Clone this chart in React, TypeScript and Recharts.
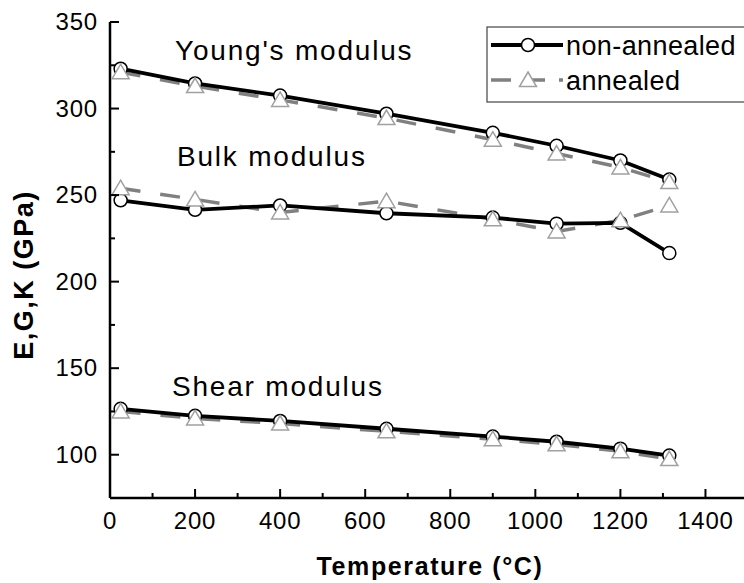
import React from 'react';
import { LineChart, Line, XAxis, YAxis } from 'recharts';

const temps = [25, 200, 400, 650, 900, 1050, 1200, 1315];
const youngNon = [323, 314.5, 307.5, 297, 286, 278.5, 270, 259];
const youngAnn = [321, 313, 305, 294.5, 282, 274, 266, 257.5];
const bulkNon = [247, 241.5, 244, 239.5, 237, 233.5, 234, 216.5];
const bulkAnn = [254, 247.5, 240, 246.5, 236, 229, 235.5, 244];
const shearNon = [126.5, 122.5, 119.5, 115, 110.5, 107.5, 103.5, 99.5];
const shearAnn = [125, 121, 118, 113.5, 109, 106, 102, 97.5];

const xTicks = [0, 100, 200, 300, 400, 500, 600, 700, 800, 900, 1000, 1100, 1200, 1300, 1400];
const xLabelTicks = [0, 200, 400, 600, 800, 1000, 1200, 1400];
const yTicks = [100, 125, 150, 175, 200, 225, 250, 275, 300, 325, 350];
const yLabelTicks = [100, 150, 200, 250, 300, 350];

const seriesNames = ['non-annealed', 'annealed'];
const annotations = ["Young's modulus", 'Bulk modulus', 'Shear modulus'];

const rows = temps.map((t, i) => ({
  t,
  youngNon: youngNon[i],
  youngAnn: youngAnn[i],
  bulkNon: bulkNon[i],
  bulkAnn: bulkAnn[i],
  shearNon: shearNon[i],
  shearAnn: shearAnn[i],
}));

const FONT = '"Liberation Sans", Arial, sans-serif';
const GRAY = '#808080';
const TRI = '#a0a0a0';

const XTick = (props: any) => {
  const { x, y, payload } = props;
  const v = payload.value;
  const major = xLabelTicks.includes(v);
  return (
    <g>
      <line x1={x} x2={x} y1={y} y2={y - (major ? 9 : 5)} stroke="#000" strokeWidth={2} />
      {major && (
        <text x={x} y={y + 31} textAnchor="middle" fontSize={24} letterSpacing={0.8} fontFamily={FONT} fill="#000">
          {v}
        </text>
      )}
    </g>
  );
};

const YTick = (props: any) => {
  const { x, y, payload } = props;
  const v = payload.value;
  const major = yLabelTicks.includes(v);
  return (
    <g>
      <line x1={x} x2={x + (major ? 9 : 5)} y1={y} y2={y} stroke="#000" strokeWidth={2} />
      {major && (
        <text x={x - 12} y={y + 8} textAnchor="end" fontSize={24} letterSpacing={0.8} fontFamily={FONT} fill="#000">
          {v}
        </text>
      )}
    </g>
  );
};

const Tri = (props: any) => {
  const { cx, cy, index } = props;
  if (cx == null || cy == null) return <g key={index} />;
  return (
    <path
      key={index}
      d={`M${cx},${cy - 8} L${cx + 8.5},${cy + 6.5} L${cx - 8.5},${cy + 6.5} Z`}
      fill="#fff"
      stroke={TRI}
      strokeWidth={1.5}
    />
  );
};

const circleDot = { r: 6.5, fill: '#fff', stroke: '#000', strokeWidth: 1.5 };

export default function App() {
  const groups = [
    ['youngNon', 'youngAnn'],
    ['bulkNon', 'bulkAnn'],
    ['shearNon', 'shearAnn'],
  ];
  return (
    <div
      style={{
        position: 'fixed',
        left: 0,
        top: 0,
        width: 744,
        height: 583,
        overflow: 'hidden',
        background: '#fff',
      }}
    >
      <LineChart width={748} height={583} data={rows} margin={{ top: 22, right: 0, bottom: 0, left: 0 }}>
        <XAxis
          dataKey="t"
          type="number"
          domain={[0, 1500]}
          ticks={xTicks}
          interval={0}
          tickSize={0}
          tickMargin={0}
          tick={<XTick />}
          height={85}
          axisLine={{ stroke: '#000', strokeWidth: 2.5 }}
          tickLine={false}
        />
        <XAxis
          xAxisId="top"
          orientation="top"
          dataKey="t"
          type="number"
          domain={[0, 1500]}
          height={0}
          tick={false}
          tickLine={false}
          axisLine={{ stroke: '#000', strokeWidth: 2.5 }}
        />
        <YAxis
          type="number"
          domain={[75, 350]}
          ticks={yTicks}
          interval={0}
          tickSize={0}
          tickMargin={0}
          tick={<YTick />}
          width={110}
          axisLine={{ stroke: '#000', strokeWidth: 2.5 }}
          tickLine={false}
        />
        {groups.map(([non, ann]) => [
          <Line
            key={ann + '-line'}
            dataKey={ann}
            stroke={GRAY}
            strokeWidth={3.5}
            strokeDasharray="20 20"
            dot={false}
            activeDot={false}
            isAnimationActive={false}
          />,
          <Line
            key={non}
            dataKey={non}
            stroke="#000"
            strokeWidth={3.8}
            dot={circleDot}
            activeDot={false}
            isAnimationActive={false}
          />,
        ])}
        {groups.map(([, ann]) => (
          <Line
            key={ann + '-dots'}
            dataKey={ann}
            stroke="none"
            dot={<Tri />}
            activeDot={false}
            isAnimationActive={false}
          />
        ))}
      </LineChart>
      <svg
        width={744}
        height={583}
        style={{ position: 'absolute', left: 0, top: 0, pointerEvents: 'none' }}
      >
        <text
          transform="rotate(-90)"
          x={-275}
          y={33}
          textAnchor="middle"
          fontSize={27}
          fontWeight="bold"
          letterSpacing={1.5}
          fontFamily={FONT}
          fill="#000"
        >
          E,G,K (GPa)
        </text>
        <text
          x={430}
          y={575}
          textAnchor="middle"
          fontSize={25}
          fontWeight="bold"
          fontFamily={FONT}
          letterSpacing={1.6}
          fill="#000"
        >
          Temperature (°C)
        </text>
        <text x={175} y={60} fontSize={28} letterSpacing={1.8} fontFamily={FONT} fill="#000">
          {annotations[0]}
        </text>
        <text x={177} y={166} fontSize={28} letterSpacing={1.8} fontFamily={FONT} fill="#000">
          {annotations[1]}
        </text>
        <text x={172} y={396} fontSize={28} letterSpacing={1.8} fontFamily={FONT} fill="#000">
          {annotations[2]}
        </text>
        <rect x={487} y={27} width={270} height={75} fill="#fff" stroke="#444" strokeWidth={1.2} />
        <line x1={491} x2={563} y1={45} y2={45} stroke="#000" strokeWidth={3.8} />
        <circle cx={528} cy={45} r={6.5} fill="#fff" stroke="#000" strokeWidth={1.5} />
        <text x={566} y={55} fontSize={27} letterSpacing={0.4} fontFamily={FONT} fill="#000">
          {seriesNames[0]}
        </text>
        <line x1={491} x2={563} y1={80} y2={80} stroke={GRAY} strokeWidth={3.5} strokeDasharray="20 14" />
        <path d="M528,72 L536.5,86.5 L519.5,86.5 Z" fill="#fff" stroke={TRI} strokeWidth={1.5} />
        <text x={566} y={90} fontSize={27} letterSpacing={0.4} fontFamily={FONT} fill="#000">
          {seriesNames[1]}
        </text>
      </svg>
    </div>
  );
}
